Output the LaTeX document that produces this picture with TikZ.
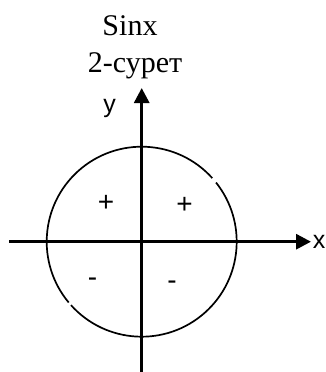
\documentclass[tikz,border=0pt]{standalone}
\usepackage{fontspec}
\setmainfont{Liberation Serif}
\newfontfamily\labfont{Liberation Sans}
\usetikzlibrary{arrows.meta}
\begin{document}
\begin{tikzpicture}[x=1pt,y=-1pt,
  axis/.style={line width=3pt,-{Triangle[length=15pt,width=15pt]}},
  circ/.style={line width=1.7pt},
  title/.style={anchor=base,inner sep=0pt,font=\fontsize{30}{30}\selectfont},
  lab/.style={anchor=base,inner sep=0pt,font=\labfont\fontsize{25}{25}\selectfont},
  sgn/.style={anchor=base,inner sep=0pt,font=\labfont\fontsize{28}{28}\selectfont}]
\useasboundingbox[fill=white] (0,0) rectangle (326,372);
\coordinate (O) at (141.7,241.7);
\coordinate (xs) at (9,241.7);
\coordinate (xe) at (311,241.7);
\coordinate (ys) at (141.7,372);
\coordinate (ye) at (141.7,88);
\node[title] (t1) at (130,35.7) {Sinx};
\node[title] (t2) at (135,72.7) {2-сурет};
\draw[circ] ([shift={(42:95pt)}]O) arc[start angle=42,end angle=219.8,radius=95pt];
\draw[circ] ([shift={(221.9:95pt)}]O) arc[start angle=221.9,end angle=398.5,radius=95pt];
\draw[axis] (xs) -- (xe);
\draw[axis] (ys) -- (ye);
\node[lab] (lx) at (319,248.5) {x};
\node[lab] (ly) at (109.5,112) {y};
\node[sgn] (p1) at (106,211) {+};
\node[sgn] (p2) at (184.5,213) {+};
\node[sgn] (m1) at (92.5,286) {-};
\node[sgn] (m2) at (172,289) {-};
\end{tikzpicture}
\end{document}
